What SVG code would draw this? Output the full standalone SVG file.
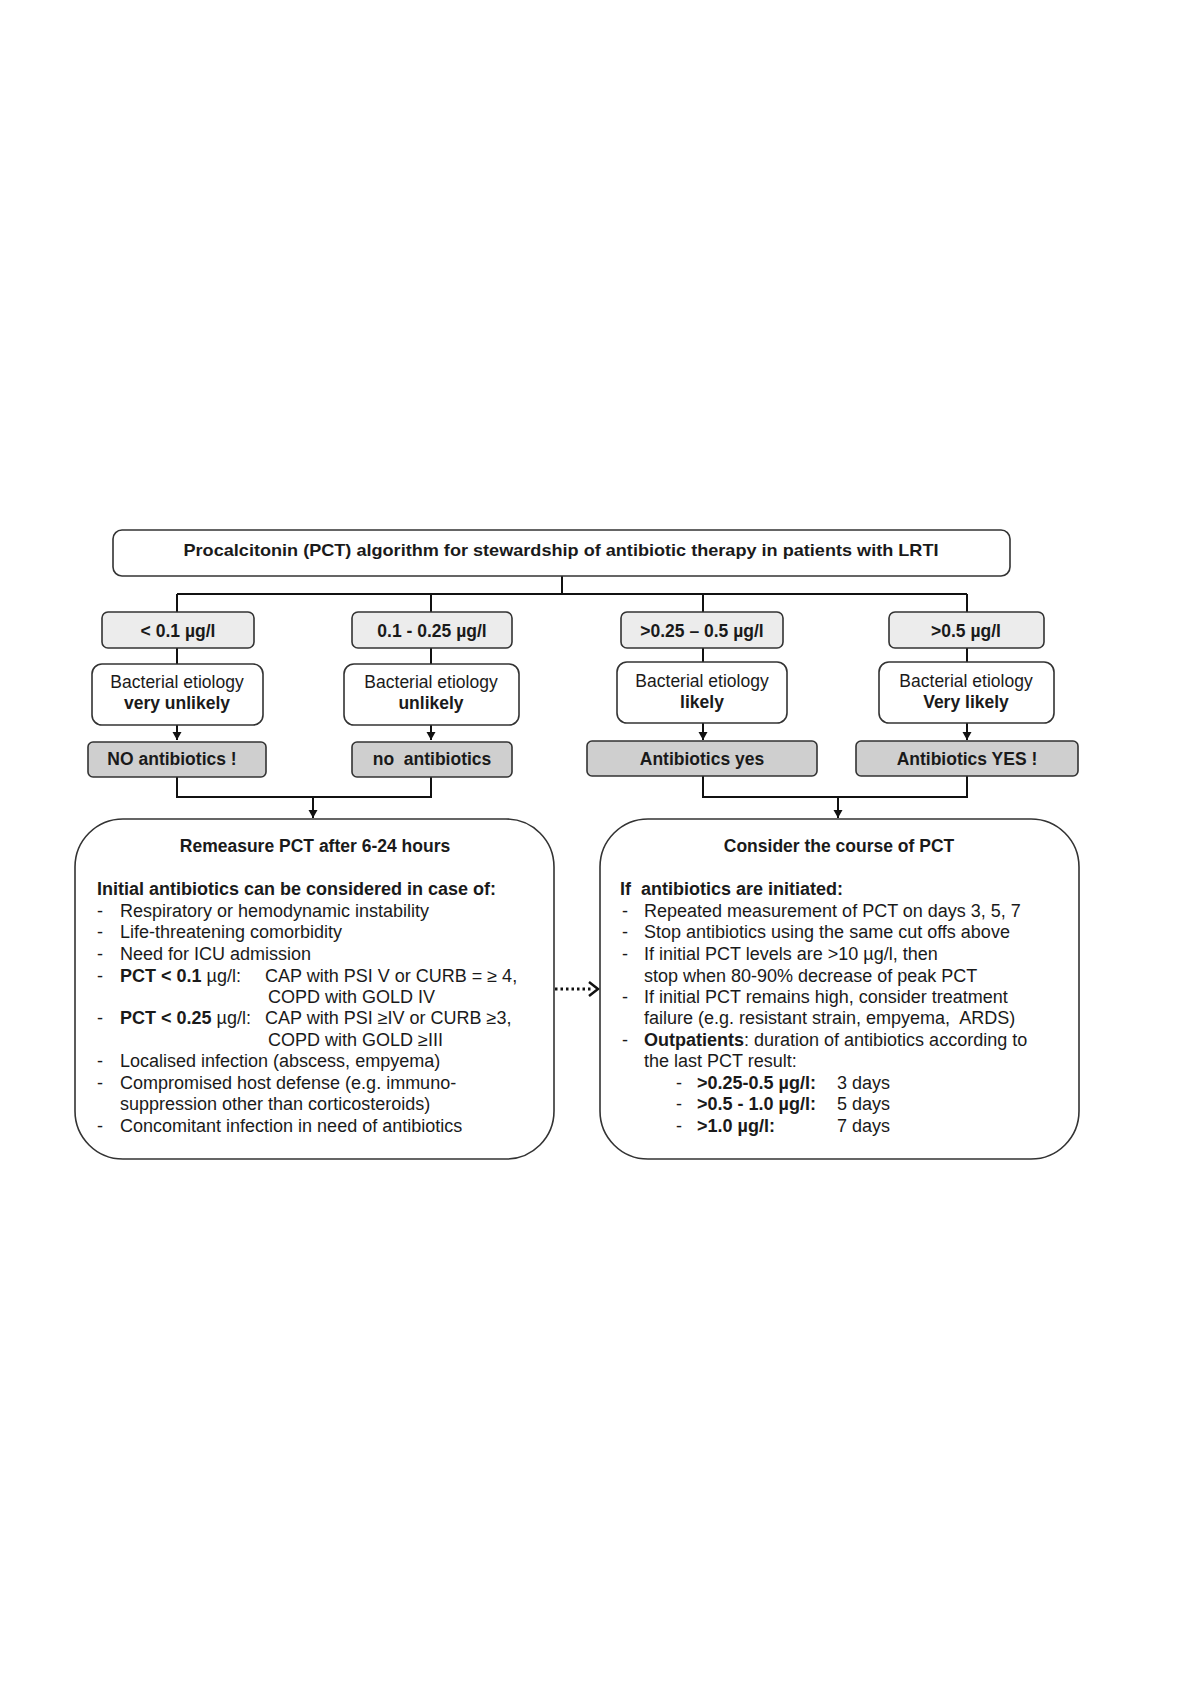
<svg xmlns="http://www.w3.org/2000/svg" width="1200" height="1698" viewBox="0 0 1200 1698">
<defs>
<marker id="ah" markerUnits="userSpaceOnUse" markerWidth="10" markerHeight="10" refX="8" refY="4.5" orient="auto">
<path d="M0,0 L8,4.5 L0,9 z" fill="#111"/>
</marker>
</defs>
<style>
text{font-family:"Liberation Sans",Arial,sans-serif;fill:#1a1a1a}
.t{font-size:17px;font-weight:bold}
.lab{font-size:17.5px;font-weight:bold;text-anchor:middle}
.et{font-size:17.5px;text-anchor:middle}
.b{font-weight:bold}
.body{font-size:18px}
.box{fill:#fff;stroke:#333;stroke-width:1.6}
.g1{fill:#ececec;stroke:#333;stroke-width:1.6}
.g2{fill:#cfcfcf;stroke:#333;stroke-width:1.6}
.c{fill:none;stroke:#111;stroke-width:2}
</style>
<rect width="1200" height="1698" fill="#fff"/>

<g id="connectors">
<path class="c" d="M562,576 V594 M177,594 H967 M177,594 V612 M431,594 V612 M703,594 V612 M967,594 V612"/>
<path class="c" d="M177,648 V664 M431,648 V664 M703,648 V662 M967,648 V662"/>
<path class="c" d="M177,725 V740" marker-end="url(#ah)"/>
<path class="c" d="M431,725 V740" marker-end="url(#ah)"/>
<path class="c" d="M703,723 V740" marker-end="url(#ah)"/>
<path class="c" d="M967,723 V740" marker-end="url(#ah)"/>
<path class="c" d="M177,777 V797 H431 V777 M703,776 V797 H967 V776"/>
<path class="c" d="M313,797 V818" marker-end="url(#ah)"/>
<path class="c" d="M838,797 V818" marker-end="url(#ah)"/>
<path d="M555,989 H592" fill="none" stroke="#111" stroke-width="3" stroke-dasharray="2.5,3"/>
<path d="M589,982 L598,989 L589,996" fill="none" stroke="#111" stroke-width="2.5"/>
</g>

<g id="title">
<rect class="box" x="113" y="530" width="897" height="46" rx="9"/>
<text class="t" x="561" y="556" text-anchor="middle" textLength="755" lengthAdjust="spacingAndGlyphs">Procalcitonin (PCT) algorithm for stewardship of antibiotic therapy in patients with LRTI</text>
</g>

<g id="range1"><rect class="g1" x="102" y="612" width="152" height="36" rx="6"/><text class="lab" x="178" y="637">&lt; 0.1 µg/l</text></g>
<g id="range2"><rect class="g1" x="352" y="612" width="160" height="36" rx="6"/><text class="lab" x="432" y="637">0.1 - 0.25 µg/l</text></g>
<g id="range3"><rect class="g1" x="621" y="612" width="162" height="36" rx="6"/><text class="lab" x="702" y="637">&gt;0.25 – 0.5 µg/l</text></g>
<g id="range4"><rect class="g1" x="889" y="612" width="155" height="36" rx="6"/><text class="lab" x="966" y="637">&gt;0.5 µg/l</text></g>

<g id="etio1"><rect class="box" x="92" y="664" width="171" height="61" rx="10"/><text class="et" x="177" y="688">Bacterial etiology</text><text class="et b" x="177" y="709">very unlikely</text></g>
<g id="etio2"><rect class="box" x="344" y="664" width="175" height="61" rx="10"/><text class="et" x="431" y="688">Bacterial etiology</text><text class="et b" x="431" y="709">unlikely</text></g>
<g id="etio3"><rect class="box" x="617" y="662" width="170" height="61" rx="10"/><text class="et" x="702" y="687">Bacterial etiology</text><text class="et b" x="702" y="708">likely</text></g>
<g id="etio4"><rect class="box" x="879" y="662" width="175" height="61" rx="10"/><text class="et" x="966" y="687">Bacterial etiology</text><text class="et b" x="966" y="708">Very likely</text></g>

<g id="act1"><rect class="g2" x="88" y="742" width="178" height="35" rx="5"/><text class="lab" x="172" y="765">NO antibiotics !</text></g>
<g id="act2"><rect class="g2" x="352" y="742" width="160" height="35" rx="5"/><text class="lab" x="432" y="765" xml:space="preserve">no  antibiotics</text></g>
<g id="act3"><rect class="g2" x="587" y="741" width="230" height="35" rx="5"/><text class="lab" x="702" y="765">Antibiotics yes</text></g>
<g id="act4"><rect class="g2" x="856" y="741" width="222" height="35" rx="5"/><text class="lab" x="967" y="765">Antibiotics YES !</text></g>

<g id="remeasure">
<rect class="box" x="75" y="819" width="479" height="340" rx="48"/>
<text class="lab" x="315" y="852">Remeasure PCT after 6-24 hours</text>
<text class="body b" x="97" y="895">Initial antibiotics can be considered in case of:</text>
<g class="body">
<text x="97" y="917">-</text><text x="120" y="917">Respiratory or hemodynamic instability</text>
<text x="97" y="938">-</text><text x="120" y="938">Life-threatening comorbidity</text>
<text x="97" y="960">-</text><text x="120" y="960">Need for ICU admission</text>
<text x="97" y="982">-</text><text x="120" y="982"><tspan class="b">PCT &lt; 0.1</tspan> µg/l:</text><text x="265" y="982">CAP with PSI V or CURB = ≥ 4,</text>
<text x="268" y="1003">COPD with GOLD IV</text>
<text x="97" y="1024">-</text><text x="120" y="1024"><tspan class="b">PCT &lt; 0.25</tspan> µg/l:</text><text x="265" y="1024">CAP with PSI ≥IV or CURB ≥3,</text>
<text x="268" y="1046">COPD with GOLD ≥III</text>
<text x="97" y="1067">-</text><text x="120" y="1067">Localised infection (abscess, empyema)</text>
<text x="97" y="1089">-</text><text x="120" y="1089">Compromised host defense (e.g. immuno-</text>
<text x="120" y="1110">suppression other than corticosteroids)</text>
<text x="97" y="1132">-</text><text x="120" y="1132">Concomitant infection in need of antibiotics</text>
</g>
</g>

<g id="course">
<rect class="box" x="600" y="819" width="479" height="340" rx="48"/>
<text class="lab" x="839" y="852">Consider the course of PCT</text>
<text class="body b" x="620" y="895" xml:space="preserve">If  antibiotics are initiated:</text>
<g class="body">
<text x="622" y="917">-</text><text x="644" y="917">Repeated measurement of PCT on days 3, 5, 7</text>
<text x="622" y="938">-</text><text x="644" y="938">Stop antibiotics using the same cut offs above</text>
<text x="622" y="960">-</text><text x="644" y="960">If initial PCT levels are &gt;10 µg/l, then</text>
<text x="644" y="982">stop when 80-90% decrease of peak PCT</text>
<text x="622" y="1003">-</text><text x="644" y="1003">If initial PCT remains high, consider treatment</text>
<text x="644" y="1024" xml:space="preserve">failure (e.g. resistant strain, empyema,  ARDS)</text>
<text x="622" y="1046">-</text><text x="644" y="1046"><tspan class="b">Outpatients</tspan>: duration of antibiotics according to</text>
<text x="644" y="1067">the last PCT result:</text>
<text x="676" y="1089">-</text><text x="697" y="1089" class="b">&gt;0.25-0.5 µg/l:</text><text x="837" y="1089">3 days</text>
<text x="676" y="1110">-</text><text x="697" y="1110" class="b">&gt;0.5 - 1.0 µg/l:</text><text x="837" y="1110">5 days</text>
<text x="676" y="1132">-</text><text x="697" y="1132" class="b">&gt;1.0 µg/l:</text><text x="837" y="1132">7 days</text>
</g>
</g>
</svg>
